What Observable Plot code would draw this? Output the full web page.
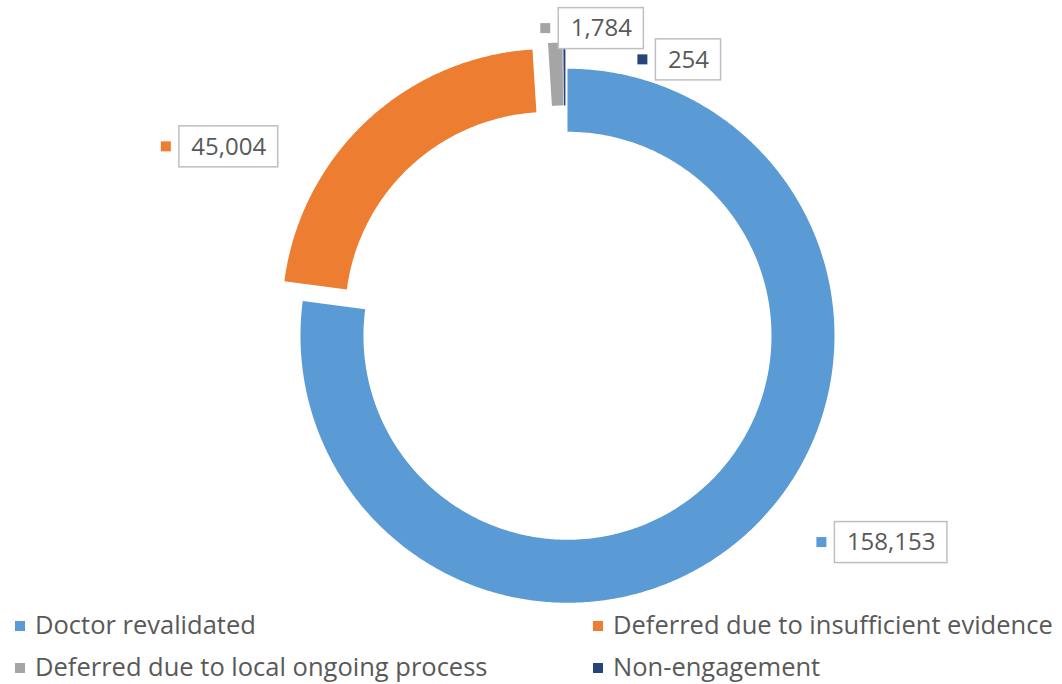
<!DOCTYPE html>
<html><head><meta charset="utf-8">
<script src="https://cdn.jsdelivr.net/npm/d3@7"></script>
<script src="https://cdn.jsdelivr.net/npm/@observablehq/plot@0.6"></script>
<style>
body{margin:0;background:#fff;font-family:"Open Sans", sans-serif;}
#chart svg{display:block}
#legend{display:grid;grid-template-columns:578px auto;padding-left:15px;}
.item{height:42px;line-height:42px;font-size:25.5px;color:#595959;white-space:nowrap;}
.sw{display:inline-block;width:10px;height:10px;margin-right:10px;vertical-align:middle;position:relative;top:-1px}
</style></head><body><div id="chart"></div><div id="legend"></div>
<script>
// ---- data ----
const categories = ["Doctor revalidated","Deferred due to insufficient evidence","Deferred due to local ongoing process","Non-engagement"];
const values = [158153, 45004, 1784, 254];
const valueLabels = ["158,153","45,004","1,784","254"];
const colors = ["#5B9BD5","#ED7D31","#A5A5A5","#264478"];

// ---- layout ----
const W = 1062, H = 603, cx = 565, cy = 333, R = 267, r = 204;
const explode = [3, 24, 24, 24];
const labelPolar = [[122.7, 387], [299, 385], [6.7, 307], [24.2, 300]]; // degrees from top, radius
const FONT = "Open Sans";
const FS = 24;

const pol = (a, rho) => [cx + rho * Math.sin(a), cy - rho * Math.cos(a)];
const arcs = d3.pie().sort(null).value(d => d)(values);

const pts = [];
arcs.forEach((a, i) => {
  const mid = (a.startAngle + a.endAngle) / 2;
  const ox = explode[i] * Math.sin(mid), oy = -explode[i] * Math.cos(mid);
  const n = Math.max(2, Math.ceil((a.endAngle - a.startAngle) / (Math.PI / 360)));
  for (let k = 0; k <= n; k++) {
    const t = a.startAngle + (a.endAngle - a.startAngle) * k / n;
    const [x, y] = pol(t, R); pts.push({cat: categories[i], x: x + ox, y: y + oy});
  }
  for (let k = n; k >= 0; k--) {
    const t = a.startAngle + (a.endAngle - a.startAngle) * k / n;
    const [x, y] = pol(t, r); pts.push({cat: categories[i], x: x + ox, y: y + oy});
  }
});

const ctx = document.createElement("canvas").getContext("2d");
ctx.font = `${FS}px "${FONT}"`;
const labels = categories.map((c, i) => {
  const [deg, rho] = labelPolar[i];
  const [x, y] = pol(deg * Math.PI / 180, rho);
  const w = ctx.measureText(valueLabels[i]).width + 24;
  return {cat: c, text: valueLabels[i], x, y, x1: x - w / 2, x2: x + w / 2, y1: y - 20.5, y2: y + 20.5,
          sx1: x - w / 2 - 18, sx2: x - w / 2 - 8, sy1: y - 5, sy2: y + 5};
});

const chart = Plot.plot({
  width: W, height: H,
  margin: 0,
  x: {domain: [0, W], range: [0, W], axis: null},
  y: {domain: [0, H], range: [0, H], axis: null},
  color: {domain: categories, range: colors},
  style: {fontFamily: FONT, background: "#fff"},
  marks: [
    Plot.line(pts, {x: "x", y: "y", z: "cat", fill: "cat", stroke: null, curve: "linear-closed"}),
    Plot.rect(labels, {x1: "x1", x2: "x2", y1: "y1", y2: "y2", fill: "white", stroke: "#BFBFBF", strokeWidth: 1.5}),
    Plot.rect(labels, {x1: "sx1", x2: "sx2", y1: "sy1", y2: "sy2", fill: "cat"}),
    Plot.text(labels, {x: "x", y: "y", text: "text", fontSize: FS, fill: "#595959"})
  ]
});
document.getElementById("chart").append(chart);

const lg = document.getElementById("legend");
categories.forEach((c, i) => {
  const d = document.createElement("div");
  d.className = "item";
  d.innerHTML = `<span class="sw" style="background:${colors[i]}"></span>${c}`;
  lg.append(d);
});
</script></body></html>
